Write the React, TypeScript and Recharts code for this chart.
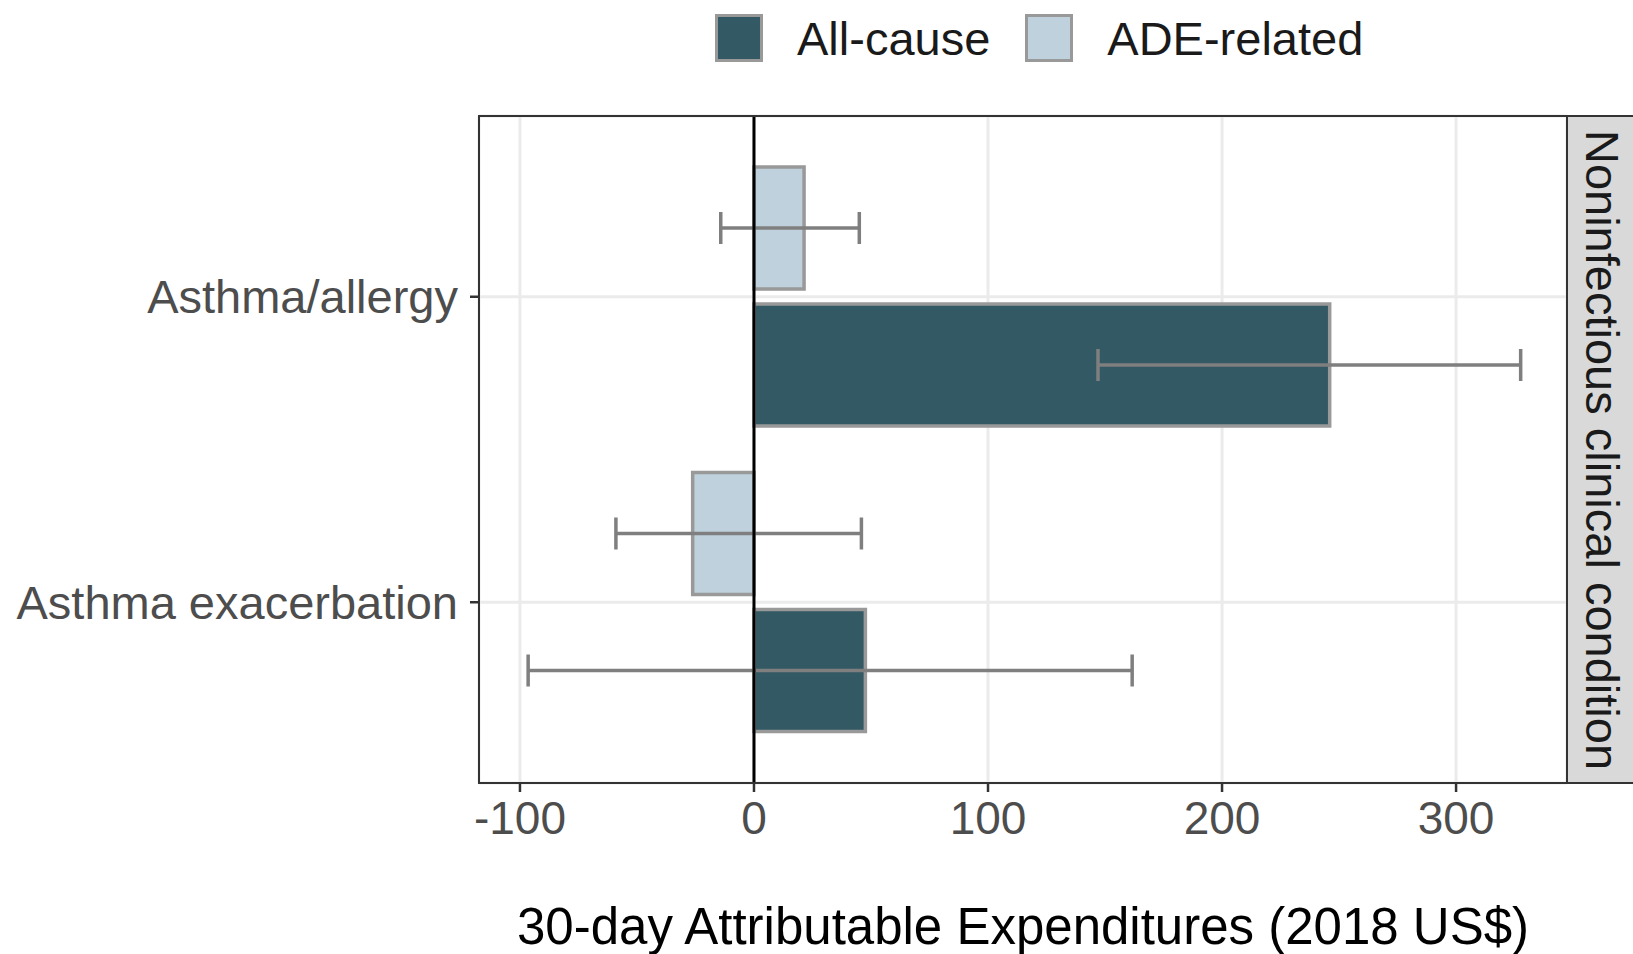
import React from "react";
import {
  BarChart,
  Bar,
  XAxis,
  YAxis,
  CartesianGrid,
  ErrorBar,
  ReferenceLine,
} from "recharts";

const categories = ["Asthma/allergy", "Asthma exacerbation"];

// All-cause
const allCause = [246, 47.6];
const allCauseLow = [147, -96.5];
const allCauseHigh = [327.6, 161.6];

// ADE-related
const ade = [21.4, -26.2];
const adeLow = [-14.2, -59];
const adeHigh = [45, 45.9];

const xTicks = [-100, 0, 100, 200, 300];

const DARK = "#325964";
const LIGHT = "#BED1DC";
const OUTLINE = "#999999";
const ERR = "#7F7F7F";
const FONT = "'Liberation Sans', Arial, sans-serif";

const data = categories.map((name, i) => ({
  name,
  ade: ade[i],
  adeErr: [ade[i] - adeLow[i], adeHigh[i] - ade[i]],
  allCause: allCause[i],
  allCauseErr: [allCause[i] - allCauseLow[i], allCauseHigh[i] - allCause[i]],
}));

function LegendKey({ color, label }: { color: string; label: string }) {
  return (
    <div style={{ display: "flex", alignItems: "center" }}>
      <div
        style={{
          width: 42,
          height: 42,
          background: color,
          border: `3px solid ${OUTLINE}`,
        }}
      />
      <span style={{ marginLeft: 34, fontSize: 47, color: "#1a1a1a" }}>{label}</span>
    </div>
  );
}

export default function App() {
  return (
    <div
      style={{
        position: "absolute",
        left: 0,
        top: 0,
        width: 1633,
        height: 954,
        background: "#fff",
        fontFamily: FONT,
      }}
    >
      {/* legend */}
      <div
        style={{
          position: "absolute",
          left: 715,
          top: 14,
          display: "flex",
          gap: 35,
          lineHeight: "47px",
        }}
      >
        <LegendKey color={DARK} label="All-cause" />
        <LegendKey color={LIGHT} label="ADE-related" />
      </div>

      <BarChart
        width={1633}
        height={954}
        data={data}
        layout="vertical"
        margin={{ top: 116, right: 66, bottom: 0, left: 0 }}
        barSize={122}
        barGap={15}
      >
        <CartesianGrid stroke="#EBEBEB" strokeWidth={3} />
        <XAxis
          type="number"
          domain={[-117.5, 347.4]}
          ticks={xTicks}
          allowDataOverflow
          height={171}
          axisLine={false}
          tickSize={9}
          tickMargin={9}
          tickLine={{ stroke: "#333333", strokeWidth: 2.5 }}
          tick={{ fill: "#4D4D4D", fontSize: 46, fontFamily: FONT }}
          label={{
            value: "30-day Attributable Expenditures (2018 US$)",
            position: "insideBottom",
            offset: 10,
            fill: "#000",
            fontSize: 51,
            fontFamily: FONT,
          }}
        />
        <YAxis
          type="category"
          dataKey="name"
          width={479}
          padding={{ top: 28, bottom: 28 }}
          axisLine={false}
          tickSize={9}
          tickMargin={12}
          tickLine={{ stroke: "#333333", strokeWidth: 2.5 }}
          tick={{ fill: "#4D4D4D", fontSize: 47, fontFamily: FONT }}
        />
        <Bar
          dataKey="ade"
          fill={LIGHT}
          stroke={OUTLINE}
          strokeWidth={3.5}
          isAnimationActive={false}
        >
          <ErrorBar dataKey="adeErr" direction="x" width={16} stroke={ERR} strokeWidth={3.5} />
        </Bar>
        <Bar
          dataKey="allCause"
          fill={DARK}
          stroke={OUTLINE}
          strokeWidth={3.5}
          isAnimationActive={false}
        >
          <ErrorBar dataKey="allCauseErr" direction="x" width={16} stroke={ERR} strokeWidth={3.5} />
        </Bar>
        <ReferenceLine x={0} stroke="#000" strokeWidth={3} />
      </BarChart>

      {/* panel border */}
      <div
        style={{
          position: "absolute",
          left: 478,
          top: 115,
          width: 1568 - 478,
          height: 784 - 115,
          border: "2.5px solid #333333",
          boxSizing: "border-box",
          pointerEvents: "none",
        }}
      />

      {/* facet strip */}
      <div
        style={{
          position: "absolute",
          left: 1566,
          top: 115,
          width: 72,
          height: 669,
          background: "#D9D9D9",
          border: "2.5px solid #333333",
          boxSizing: "border-box",
          overflow: "hidden",
        }}
      >
        <div
          style={{
            position: "absolute",
            left: "50%",
            top: "50%",
            transform: "translate(-50%, -50%) rotate(90deg)",
            whiteSpace: "nowrap",
            fontSize: 47,
            color: "#1a1a1a",
          }}
        >
          Noninfectious clinical condition
        </div>
      </div>
    </div>
  );
}
